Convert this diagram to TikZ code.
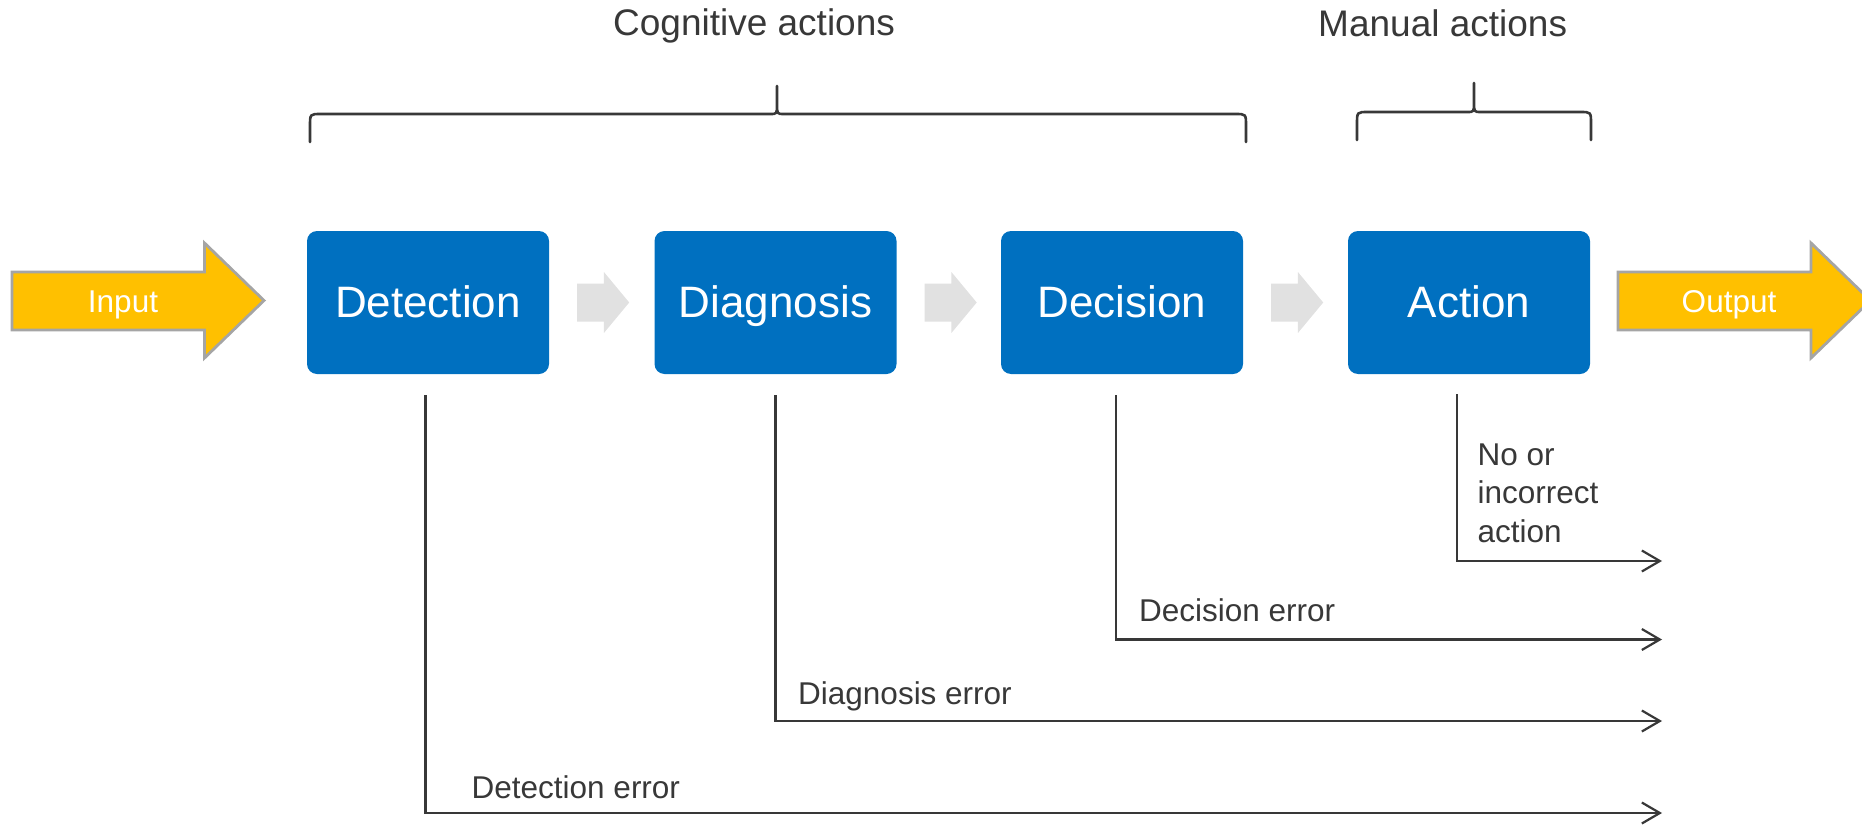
\documentclass[tikz,border=0pt]{standalone}
\usepackage{fontspec}
\setmainfont{Liberation Sans}
\usetikzlibrary{arrows.meta,calc}

\definecolor{stageblue}{HTML}{0070C0}
\definecolor{ioyellow}{HTML}{FFC000}
\definecolor{ioedge}{HTML}{A5A5A5}
\definecolor{flowgray}{HTML}{E1E1E1}
\definecolor{ink}{HTML}{383838}

\begin{document}
\begin{tikzpicture}[x=1pt,y=-1pt,
  stage/.style={fill=stageblue, rounded corners=10pt, minimum width=242pt,
    minimum height=143pt, inner sep=0pt, text=white,
    text height=31.5pt, text depth=1.5pt,
    font=\fontsize{44}{50}\selectfont},
  iolabel/.style={text=white, inner sep=0pt, text height=22.5pt, text depth=0pt,
    font=\fontsize{31.5}{36}\selectfont},
  iobody/.style={fill=ioyellow, draw=ioedge, line width=2.8pt, line join=miter},
  flowstep/.style={fill=flowgray},
  grouplabel/.style={text=ink, inner sep=0pt, anchor=base west,
    font=\fontsize{37}{44}\selectfont},
  brace/.style={draw=ink, line width=2.6pt, line cap=round},
  errline/.style={draw=ink, line width=2.2pt,
    -{Straight Barb[length=18pt, width=21pt]}},
  errlabel/.style={text=ink, inner sep=0pt, anchor=base west, align=left,
    font=\fontsize{31.5}{38.5}\selectfont}
]
\useasboundingbox (0,0) rectangle (1862,824);

% group labels and braces
\node[grouplabel] (cogLabel) at (613,36) {Cognitive actions};
\node[grouplabel] (manLabel) at (1318,36.5) {Manual actions};
\draw[brace] (310,142) -- (310,126) .. controls (310,114) .. (321,114)
  -- (770,114) .. controls (777,114) .. (777,104) -- (777,86)
  (777,104) .. controls (777,114) .. (784,114)
  -- (1235,114) .. controls (1246,114) .. (1246,126) -- (1246,142);
\draw[brace] (1357,140) -- (1357,124) .. controls (1357,112) .. (1368,112)
  -- (1467,112) .. controls (1474,112) .. (1474,102) -- (1474,83)
  (1474,102) .. controls (1474,112) .. (1481,112)
  -- (1580,112) .. controls (1591,112) .. (1591,124) -- (1591,140);

% input and output arrows
\draw[iobody] (12,272) -- (204.5,272) -- (204.5,243) -- (264,300.5)
  -- (204.5,358) -- (204.5,330) -- (12,330) -- cycle;
\node[iolabel] (input) at (123,301.5) {Input};
\draw[iobody] (1618,272) -- (1811,272) -- (1811,243) -- (1870.5,300.5)
  -- (1811,358) -- (1811,330) -- (1618,330) -- cycle;
\node[iolabel] (output) at (1729,301.5) {Output};

% process stages
\node[stage] (det) at (428,302.5) {Detection};
\node[stage] (dia) at (775.5,302.5) {Diagnosis};
\node[stage] (dec) at (1122,302.5) {Decision};
\node[stage] (act) at (1469,302.5) {Action};

% flow arrows between stages
\foreach \b in {det,dia,dec}
  \fill[flowstep] ($(\b.east)+(28,-19)$) -- ++(26.7,0) -- ++(0,-11.5)
    -- ++(25.3,30.5) -- ++(-25.3,30.5) -- ++(0,-11.5) -- ++(-26.7,0) -- cycle;

% error branches
\coordinate (detDrop) at (425.5,395);
\coordinate (diaDrop) at (775.5,395);
\coordinate (decDrop) at (1116,395);
\coordinate (actDrop) at (1457,394);
\coordinate (detEnd) at (1662,813);
\coordinate (diaEnd) at (1662,721);
\coordinate (decEnd) at (1662,639.5);
\coordinate (actEnd) at (1662,561);

\draw[errline] (detDrop) |- (detEnd);
\draw[errline] (diaDrop) |- (diaEnd);
\draw[errline] (decDrop) |- (decEnd);
\draw[errline] (actDrop) |- (actEnd);

\node[errlabel] (detErr) at (471.5,798) {Detection error};
\node[errlabel] (diaErr) at (798,704) {Diagnosis error};
\node[errlabel] (decErr) at (1139,621.5) {Decision error};
\node[errlabel] (actErr) at (1477.5,542) {No or\\incorrect\\action};
\end{tikzpicture}
\end{document}
